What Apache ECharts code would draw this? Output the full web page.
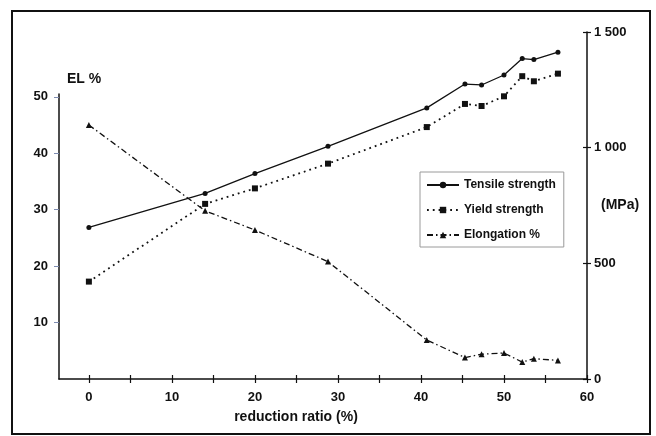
<!DOCTYPE html>
<html lang="en">

<head>
    <meta charset="UTF-8">
    <title>reduction ratio</title>
    <script type="text/javascript" src="https://cdn.jsdelivr.net/npm/echarts@6/dist/echarts.min.js"></script>
    <style>
        body { margin: 0; background: #fff; }
    </style>
</head>

<body>
    <div id="main" style="width: 656px; height: 436px;"></div>
    <script>
        // reduction ratio (%) of each sample
        var reduction = [0, 14, 20, 28.8, 40.7, 45.3, 47.3, 50, 52.2, 53.6, 56.5];
        // strengths in MPa (right axis)
        var tensile = [655, 802, 888, 1006, 1172, 1275, 1271, 1314, 1385, 1381, 1413];
        var yieldStr = [421, 757, 824, 931, 1089, 1189, 1180, 1222, 1309, 1287, 1320];
        // elongation in % (left axis)
        var elongation = [45.0, 29.8, 26.4, 20.8, 6.9, 3.8, 4.4, 4.6, 3.0, 3.6, 3.3];

        var xTicks = [0, 5, 10, 15, 20, 25, 30, 35, 40, 45, 50, 55, 60];
        var xLabels = [0, 10, 20, 30, 40, 50, 60];
        var elTicks = [10, 20, 30, 40, 50];

        function pairs(ys) {
            return reduction.map(function (x, i) { return [x, ys[i]]; });
        }

        var font = '"Liberation Sans", Arial, sans-serif';
        var ink = '#111';

        var myChart = echarts.init(document.getElementById('main'));

        var xBase = {
            type: 'value',
            min: -3.6,
            max: 60,
            splitLine: { show: false }
        };

        myChart.setOption({
            animation: false,
            backgroundColor: '#fff',
            grid: [
                { left: 59, right: 69, top: 94, bottom: 57, outerBoundsMode: 'none' },
                { left: 59, right: 69, top: 32, bottom: 57, outerBoundsMode: 'none' }
            ],
            legend: {
                orient: 'vertical',
                left: 420,
                top: 172,
                padding: [6, 8, 5, 6],
                itemGap: 11,
                itemWidth: 32,
                itemHeight: 8,
                borderColor: '#9a9a9a',
                borderWidth: 1,
                textStyle: { fontFamily: font, fontWeight: 'bold', fontSize: 12, color: ink, lineHeight: 14 },
                data: ['Tensile strength', 'Yield strength', 'Elongation %']
            },
            xAxis: [
                Object.assign({}, xBase, {
                    gridIndex: 0,
                    name: 'reduction ratio (%)',
                    nameLocation: 'middle',
                    nameGap: 31,
                    nameMoveOverlap: false,
                    nameTextStyle: { fontFamily: font, fontWeight: 'bold', fontSize: 14, color: ink, padding: [0, 54, 0, 0] },
                    axisLine: { onZero: false, lineStyle: { color: ink, width: 1.5 } },
                    axisTick: { customValues: xTicks, length: 4, lineStyle: { color: ink, width: 1.2 } },
                    axisLabel: { customValues: xLabels, margin: 12, fontFamily: font, fontWeight: 'bold', fontSize: 13, color: ink }
                }),
                Object.assign({}, xBase, {
                    gridIndex: 1,
                    axisLine: { show: false, onZero: false },
                    axisTick: { customValues: xTicks, inside: true, length: 4, lineStyle: { color: ink, width: 1.2 } },
                    axisLabel: { show: false }
                })
            ],
            yAxis: [
                {
                    type: 'value',
                    gridIndex: 0,
                    min: 0,
                    max: 50.5,
                    name: 'EL %',
                    nameLocation: 'end',
                    nameGap: 8,
                    nameTextStyle: { fontFamily: font, fontWeight: 'bold', fontSize: 14, color: ink, align: 'left', padding: [0, 0, 0, 8] },
                    splitLine: { show: false },
                    axisLine: { show: true, onZero: false, lineStyle: { color: ink, width: 1.5 } },
                    axisTick: { show: true, customValues: elTicks, length: 5, lineStyle: { color: '#7d8bb0', width: 1 } },
                    axisLabel: { customValues: elTicks, margin: 11, fontFamily: font, fontWeight: 'bold', fontSize: 13, color: ink }
                },
                {
                    type: 'value',
                    gridIndex: 1,
                    position: 'right',
                    min: 0,
                    max: 1500,
                    interval: 500,
                    name: '(MPa)',
                    nameLocation: 'middle',
                    nameRotate: 0,
                    nameGap: 14,
                    nameMoveOverlap: false,
                    nameTextStyle: { fontFamily: font, fontWeight: 'bold', fontSize: 14, color: ink, align: 'left' },
                    splitLine: { show: false },
                    axisLine: { show: true, onZero: false, lineStyle: { color: ink, width: 1.5 } },
                    axisTick: { show: true, length: 4, lineStyle: { color: ink, width: 1.2 } },
                    axisLabel: {
                        margin: 7,
                        fontFamily: font, fontWeight: 'bold', fontSize: 13, color: ink,
                        formatter: function (v) {
                            return v >= 1000 ? Math.floor(v / 1000) + ' ' + String(v % 1000).padStart(3, '0') : String(v);
                        }
                    }
                },
                {
                    type: 'value',
                    gridIndex: 1,
                    position: 'right',
                    min: 0,
                    max: 1500,
                    interval: 500,
                    splitLine: { show: false },
                    axisLine: { show: false, onZero: false },
                    axisTick: { show: true, inside: true, length: 4, lineStyle: { color: ink, width: 1.2 } },
                    axisLabel: { show: false }
                }
            ],
            series: [
                {
                    name: 'Tensile strength',
                    type: 'line',
                    xAxisIndex: 1,
                    yAxisIndex: 1,
                    data: pairs(tensile),
                    symbol: 'circle',
                    symbolSize: 5,
                    itemStyle: { color: ink },
                    lineStyle: { color: ink, width: 1.3 }
                },
                {
                    name: 'Yield strength',
                    type: 'line',
                    xAxisIndex: 1,
                    yAxisIndex: 1,
                    data: pairs(yieldStr),
                    symbol: 'rect',
                    symbolSize: 6,
                    itemStyle: { color: ink },
                    lineStyle: { color: ink, width: 1.8, type: [1.8, 4] }
                },
                {
                    name: 'Elongation %',
                    type: 'line',
                    xAxisIndex: 0,
                    yAxisIndex: 0,
                    data: pairs(elongation),
                    symbol: 'triangle',
                    symbolSize: 6,
                    itemStyle: { color: ink },
                    lineStyle: { color: ink, width: 1.3, type: [6, 3, 1.5, 3] }
                }
            ],
            graphic: [
                {
                    type: 'rect',
                    shape: { x: 12, y: 11, width: 638, height: 423 },
                    style: { fill: 'none', stroke: ink, lineWidth: 2 },
                    silent: true
                }
            ]
        });
    </script>
</body>

</html>
